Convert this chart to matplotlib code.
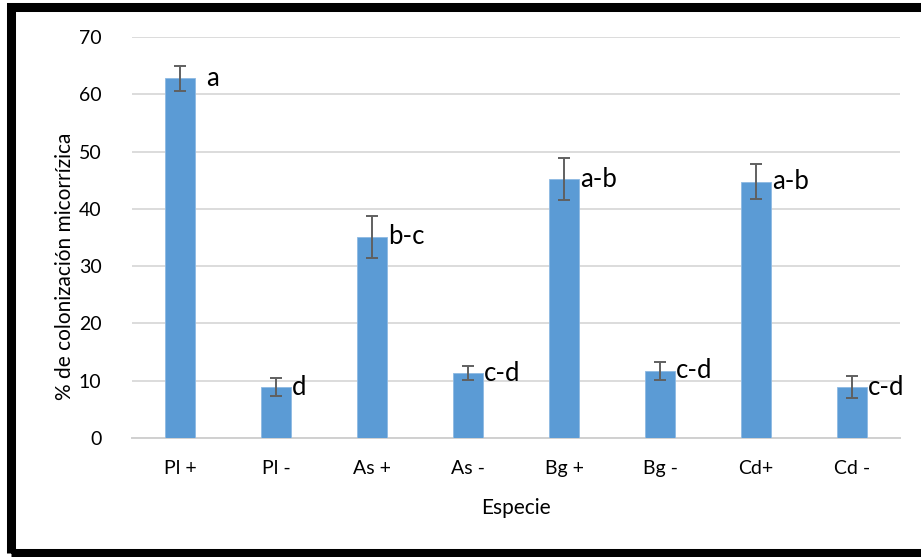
import matplotlib
matplotlib.use("Agg")
import matplotlib.pyplot as plt
from matplotlib.patches import Rectangle

# Mycorrhizal colonisation by species (+ / - inoculation)
categories = ["Pl +", "Pl -", "As +", "As -", "Bg +", "Bg -", "Cd+", "Cd -"]
colonizacion = [62.8, 8.9, 35.1, 11.3, 45.2, 11.7, 44.7, 8.9]
error = [2.2, 1.5, 3.6, 1.25, 3.6, 1.6, 3.05, 1.9]
grupos = ["a", "d", "b-c", "c-d", "a-b", "c-d", "a-b", "c-d"]
yticks = [0, 10, 20, 30, 40, 50, 60, 70]

plt.rcParams["font.family"] = ["Lato", "DejaVu Sans"]

W, H = 921, 557
fig = plt.figure(figsize=(W / 100, H / 100), dpi=100)
ax = fig.add_axes([132 / W, 1 - 438 / H, (900 - 132) / W, (438 - 37) / H])

x = range(len(categories))
ax.bar(x, colonizacion, width=0.315, color="#5B9BD5", edgecolor="#8DB9E3",
       linewidth=0.6, zorder=3)
ax.errorbar(x, colonizacion, yerr=error, fmt="none", ecolor="#606060",
            elinewidth=1.4, capsize=4.5, capthick=1.4, zorder=4)

for i, (xi, v, g) in enumerate(zip(x, colonizacion, grupos)):
    dx = 19 if i == 0 else 11.5
    ax.annotate(g, (xi, v), xytext=(dx, 0), textcoords="offset points",
                ha="left", va="center", fontsize=18.5, color="black", zorder=5)

ax.set_xlim(-0.5, len(categories) - 0.5)
ax.set_ylim(0, 70)
ax.set_yticks(yticks)
ax.set_xticks(list(x))
ax.set_xticklabels(categories)
ax.grid(axis="y", color="#D9D9D9", linewidth=1.3, zorder=0)
ax.set_axisbelow(True)
for side in ("top", "right", "left"):
    ax.spines[side].set_visible(False)
ax.spines["bottom"].set_color("#D0D0D0")
ax.spines["bottom"].set_linewidth(1.4)
ax.tick_params(axis="both", length=0, labelsize=14, colors="black")
ax.tick_params(axis="x", pad=16)
ax.tick_params(axis="y", pad=22)

ax.set_xlabel("Especie", fontsize=15, labelpad=15)
fig.text(65 / W, 1 - 266 / H, "% de colonización micorrízica", fontsize=15,
         rotation=90, ha="center", va="center")

# heavy black frame around the chart (open on the right)
fig.add_artist(Rectangle((11 / W, 1 - 553 / H), (940 - 11) / W, (553 - 7) / H,
                         transform=fig.transFigure, fill=False,
                         edgecolor="black", linewidth=6.5, clip_on=False))

fig.savefig("out.png", dpi=100, facecolor="white")
